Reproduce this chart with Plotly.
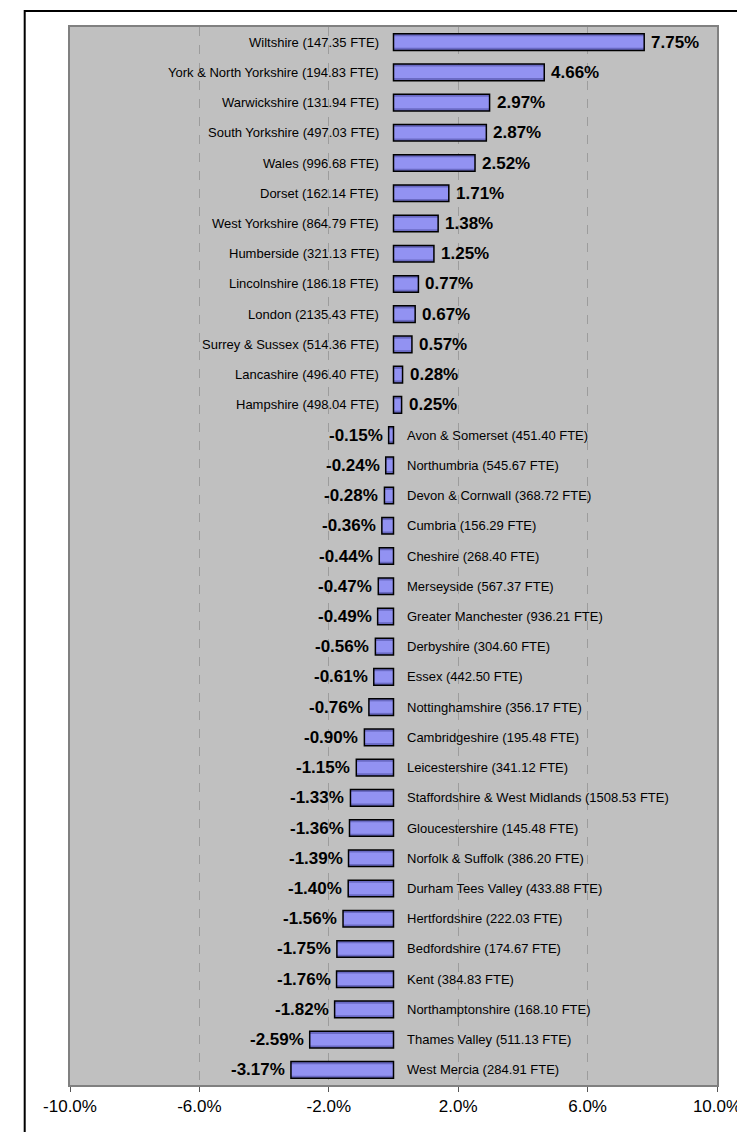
import plotly.graph_objects as go

regions = ["Wiltshire", "York & North Yorkshire", "Warwickshire", "South Yorkshire", "Wales",
           "Dorset", "West Yorkshire", "Humberside", "Lincolnshire", "London",
           "Surrey & Sussex", "Lancashire", "Hampshire", "Avon & Somerset", "Northumbria",
           "Devon & Cornwall", "Cumbria", "Cheshire", "Merseyside", "Greater Manchester",
           "Derbyshire", "Essex", "Nottinghamshire", "Cambridgeshire", "Leicestershire",
           "Staffordshire & West Midlands", "Gloucestershire", "Norfolk & Suffolk",
           "Durham Tees Valley", "Hertfordshire", "Bedfordshire", "Kent",
           "Northamptonshire", "Thames Valley", "West Mercia"]
fte = [147.35, 194.83, 131.94, 497.03, 996.68,
       162.14, 864.79, 321.13, 186.18, 2135.43,
       514.36, 496.40, 498.04, 451.40, 545.67,
       368.72, 156.29, 268.40, 567.37, 936.21,
       304.60, 442.50, 356.17, 195.48, 341.12,
       1508.53, 145.48, 386.20,
       433.88, 222.03, 174.67, 384.83,
       168.10, 511.13, 284.91]
change = [7.75, 4.66, 2.97, 2.87, 2.52,
          1.71, 1.38, 1.25, 0.77, 0.67,
          0.57, 0.28, 0.25, -0.15, -0.24,
          -0.28, -0.36, -0.44, -0.47, -0.49,
          -0.56, -0.61, -0.76, -0.90, -1.15,
          -1.33, -1.36, -1.39,
          -1.40, -1.56, -1.75, -1.76,
          -1.82, -2.59, -3.17]
tick_vals = [-10, -6, -2, 2, 6, 10]

labels = [f"{r} ({f:.2f} FTE)" for r, f in zip(regions, fte)]

FONT = "Liberation Sans, Arial, sans-serif"

fig = go.Figure()
# dark base of the bar (simulated gradient edges)
fig.add_trace(go.Bar(x=change, y=labels, orientation="h", width=0.55,
                     marker=dict(color="#6a6ac4", line=dict(width=0)),
                     hoverinfo="skip", showlegend=False))
# light centre
fig.add_trace(go.Bar(x=change, y=labels, orientation="h", width=0.38,
                     marker=dict(color="#9292f2", line=dict(width=0)),
                     hoverinfo="skip", showlegend=False))
# outline
fig.add_trace(go.Bar(x=change, y=labels, orientation="h", width=0.55,
                     marker=dict(color="rgba(0,0,0,0)", line=dict(color="#000000", width=1.5)),
                     showlegend=False))

annotations = []
for lab, v in zip(labels, change):
    pos = v >= 0
    annotations.append(dict(x=0, y=lab, xref="x", yref="y", text=lab, showarrow=False,
                            xanchor="right" if pos else "left",
                            xshift=-13 if pos else 11,
                            font=dict(family=FONT, size=13, color="#000000")))
    annotations.append(dict(x=v, y=lab, xref="x", yref="y", text=f"<b>{v:.2f}%</b>",
                            showarrow=False,
                            xanchor="left" if pos else "right",
                            xshift=5 if pos else -4,
                            font=dict(family=FONT, size=17, color="#000000")))

fig.update_layout(
    width=745, height=1132, autosize=False,
    margin=dict(l=62, r=26, t=19, b=55),
    paper_bgcolor="#ffffff", plot_bgcolor="#c0c0c0",
    barmode="overlay", bargap=0.45,
    annotations=annotations,
    shapes=[dict(type="rect", xref="paper", yref="paper",
                 x0=(16 - 62) / 657, x1=1.06, y0=-0.07, y1=(1077 - 3) / 1058,
                 line=dict(color="#000000", width=2), fillcolor="rgba(0,0,0,0)", layer="below")],
    xaxis=dict(range=[-10, 10], tickvals=tick_vals, ticktext=[f"{t:.1f}%" for t in tick_vals],
               showgrid=True, gridcolor="#9c9c9c", griddash="dash", gridwidth=1,
               zeroline=False, showline=True, linecolor="#808080", linewidth=2, mirror=True,
               ticks="outside", ticklen=5, tickcolor="#555555", tickwidth=1,
               tickfont=dict(family=FONT, size=17, color="#000000")),
    yaxis=dict(autorange="reversed", showticklabels=False, showgrid=False, zeroline=False,
               showline=True, linecolor="#808080", linewidth=2, mirror=True, ticks=""),
)

fig.write_html("out.html")
